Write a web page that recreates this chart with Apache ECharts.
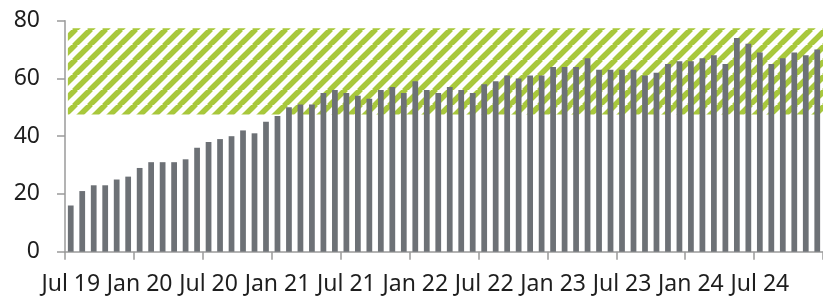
<!DOCTYPE html>
<html>
<head>
<meta charset="utf-8">
<script src="https://cdn.jsdelivr.net/npm/echarts@6/dist/echarts.min.js"></script>
<style>
html,body{margin:0;padding:0;background:#fff;}
#chart{width:823px;height:298px;}
</style>
</head>
<body>
<div id="chart"></div>
<script>
var categories = [
  'Jul 19','Aug 19','Sep 19','Oct 19','Nov 19','Dec 19',
  'Jan 20','Feb 20','Mar 20','Apr 20','May 20','Jun 20','Jul 20','Aug 20','Sep 20','Oct 20','Nov 20','Dec 20',
  'Jan 21','Feb 21','Mar 21','Apr 21','May 21','Jun 21','Jul 21','Aug 21','Sep 21','Oct 21','Nov 21','Dec 21',
  'Jan 22','Feb 22','Mar 22','Apr 22','May 22','Jun 22','Jul 22','Aug 22','Sep 22','Oct 22','Nov 22','Dec 22',
  'Jan 23','Feb 23','Mar 23','Apr 23','May 23','Jun 23','Jul 23','Aug 23','Sep 23','Oct 23','Nov 23','Dec 23',
  'Jan 24','Feb 24','Mar 24','Apr 24','May 24','Jun 24','Jul 24','Aug 24','Sep 24','Oct 24','Nov 24','Dec 24'
];
var values = [
  16, 21, 23, 23, 25, 26,
  29, 31, 31, 31, 32, 36, 38, 39, 40, 42, 41, 45,
  47, 50, 51, 51, 55, 56, 55, 54, 53, 56, 57, 55,
  59, 56, 55, 57, 56, 55, 58, 59, 61, 60, 61, 61,
  64, 64, 64, 67, 63, 63, 63, 63, 61, 62, 65, 66,
  66, 67, 68, 65, 74, 72, 69, 65, 67, 69, 68, 70
];
var yTicks = [0, 20, 40, 60, 80];
var bandLow = 47.5;
var bandHigh = 77.4;
var bandStart = 0.25;

function makePattern() {
  var P = 15;
  var c = document.createElement('canvas');
  c.width = P; c.height = P;
  var ctx = c.getContext('2d');
  ctx.fillStyle = '#ffffff';
  ctx.fillRect(0, 0, P, P);
  ctx.strokeStyle = '#a8c83c';
  ctx.lineWidth = 5.5;
  for (var k = -1; k <= 1; k++) {
    ctx.beginPath();
    ctx.moveTo(k * P - 1, P + 1);
    ctx.lineTo(k * P + P + 1, -1);
    ctx.stroke();
  }
  return c;
}

var chart = echarts.init(document.getElementById('chart'), null, {renderer: 'canvas'});
var labelFont = {fontFamily: 'Noto Sans', fontSize: 23, color: '#1e1e1e'};
chart.setOption({
  animation: false,
  grid: {left: 65, right: -1, top: 20.7, bottom: 46.3},
  xAxis: [{
    type: 'category',
    data: categories,
    boundaryGap: true,
    axisLine: {show: true, lineStyle: {color: '#9a9a9a', width: 1.5}},
    axisTick: {show: true, interval: 5, length: 8, lineStyle: {color: '#9a9a9a', width: 1.5}},
    axisLabel: Object.assign({interval: 5, margin: 21}, labelFont),
    splitLine: {show: false}
  }, {
    type: 'value',
    min: 0,
    max: categories.length,
    show: false
  }],
  yAxis: {
    type: 'value',
    min: yTicks[0],
    max: yTicks[yTicks.length - 1],
    interval: 20,
    axisLine: {show: true, lineStyle: {color: '#9a9a9a', width: 1.5}},
    axisTick: {show: true, length: 8, lineStyle: {color: '#9a9a9a', width: 1.5}},
    axisLabel: Object.assign({margin: 25}, labelFont),
    splitLine: {show: false}
  },
  series: [{
    type: 'line',
    xAxisIndex: 1,
    data: [],
    z: 1,
    silent: true,
    markArea: {
      silent: true,
      itemStyle: {color: {image: makePattern(), repeat: 'repeat'}},
      data: [[{xAxis: bandStart, yAxis: bandLow}, {xAxis: categories.length, yAxis: bandHigh}]]
    }
  }, {
    type: 'bar',
    data: values,
    barWidth: '50%',
    z: 3,
    itemStyle: {color: '#6d7176'}
  }]
});
</script>
</body>
</html>
